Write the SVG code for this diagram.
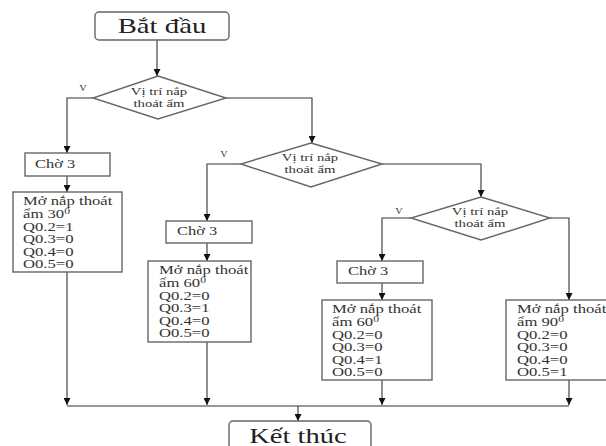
<svg xmlns="http://www.w3.org/2000/svg" width="606" height="446" viewBox="0 0 606 446" font-family="'Liberation Serif', 'Times New Roman', serif">
<defs>
<marker id="ah" viewBox="0 0 8 8" refX="8" refY="4" markerWidth="7" markerHeight="7" markerUnits="userSpaceOnUse" orient="auto">
<path d="M0,0 L8,4 L0,8 Z" fill="#111"/>
</marker>
<style>
.bx{fill:#fff;stroke:#666;stroke-width:1.4}
.ln{fill:none;stroke:#333;stroke-width:1.1}
.ar{fill:none;stroke:#333;stroke-width:1.1;marker-end:url(#ah)}
text{fill:#333;font-family:'Liberation Serif','Times New Roman',serif}
.t{font-size:11.5px}
.d{font-size:10.5px}
.v{font-size:8px}
.big{font-size:21px;fill:#222}
</style>
</defs>
<rect width="606" height="446" fill="#fff"/>

<g id="connectors">
<path class="ar" d="M157,40 V76"/>
<path class="ar" d="M93,98 H67 V153"/>
<path class="ar" d="M67,176 V192"/>
<path class="ar" d="M67,272 V405"/>
<path class="ar" d="M226,98 H312 V143"/>
<path class="ar" d="M241,164 H207 V221"/>
<path class="ar" d="M207,243 V261"/>
<path class="ar" d="M207,342 V405"/>
<path class="ar" d="M382,164 H481 V197"/>
<path class="ar" d="M411,218 H382 V261"/>
<path class="ar" d="M382,283 V300"/>
<path class="ar" d="M382,380 V405"/>
<path class="ar" d="M550,218 H569 V300"/>
<path class="ar" d="M569,380 V405"/>
<path class="ln" d="M67,406 H569"/>
<path class="ar" d="M298,406 V421"/>
</g>

<g id="start">
<rect class="bx" x="95" y="12" width="134" height="28" rx="4"/>
<text class="big" transform="translate(162,0) scale(1.37,1)" x="0" y="33" text-anchor="middle">Bắt đầu</text>
</g>

<g id="decision1">
<polygon class="bx" points="158,76 226,98 158,119 93,98"/>
<text class="d" transform="translate(159,0) scale(1.4,1)" x="0" y="95" text-anchor="middle">Vị trí nắp</text>
<text class="d" transform="translate(159,0) scale(1.4,1)" x="0" y="107" text-anchor="middle">thoát ẩm</text>
<text class="v" transform="translate(83,0) scale(1.3,1)" x="0" y="91" text-anchor="middle">V</text>
</g>

<g id="wait1">
<rect class="bx" x="25" y="153" width="85" height="23"/>
<text class="t" transform="translate(35,0) scale(1.43,1)" x="0" y="168">Chờ 3</text>
</g>

<g id="open30">
<rect class="bx" x="13" y="192" width="109" height="80"/>
<g transform="translate(23,0) scale(1.45,1)">
<text class="t" x="0" y="205.5">Mở nắp thoát</text>
<text class="t" x="0" y="218">ẩm 30<tspan font-size="8" dy="-4">0</tspan></text>
<text class="t" x="0" y="230.6">Q0.2=1</text>
<text class="t" x="0" y="243.2">Q0.3=0</text>
<text class="t" x="0" y="255.8">Q0.4=0</text>
<text class="t" x="0" y="268.4">O0.5=0</text>
</g>
</g>

<g id="decision2">
<polygon class="bx" points="311,143 382,164 311,187 241,164"/>
<text class="d" transform="translate(310,0) scale(1.4,1)" x="0" y="161" text-anchor="middle">Vị trí nắp</text>
<text class="d" transform="translate(310,0) scale(1.4,1)" x="0" y="173" text-anchor="middle">thoát ẩm</text>
<text class="v" transform="translate(224,0) scale(1.3,1)" x="0" y="157" text-anchor="middle">V</text>
</g>

<g id="wait2">
<rect class="bx" x="166" y="221" width="86" height="22"/>
<text class="t" transform="translate(177,0) scale(1.43,1)" x="0" y="235">Chờ 3</text>
</g>

<g id="open60a">
<rect class="bx" x="148" y="261" width="103" height="81"/>
<g transform="translate(159,0) scale(1.45,1)">
<text class="t" x="0" y="274.5">Mở nắp thoát</text>
<text class="t" x="0" y="287">ẩm 60<tspan font-size="8" dy="-4">0</tspan></text>
<text class="t" x="0" y="299.6">Q0.2=0</text>
<text class="t" x="0" y="312.2">Q0.3=1</text>
<text class="t" x="0" y="324.8">Q0.4=0</text>
<text class="t" x="0" y="337.4">O0.5=0</text>
</g>
</g>

<g id="decision3">
<polygon class="bx" points="481,197 550,218 481,240 411,218"/>
<text class="d" transform="translate(480,0) scale(1.4,1)" x="0" y="215" text-anchor="middle">Vị trí nắp</text>
<text class="d" transform="translate(480,0) scale(1.4,1)" x="0" y="227" text-anchor="middle">thoát ẩm</text>
<text class="v" transform="translate(399,0) scale(1.3,1)" x="0" y="214" text-anchor="middle">V</text>
</g>

<g id="wait3">
<rect class="bx" x="337" y="261" width="86" height="22"/>
<text class="t" transform="translate(348,0) scale(1.43,1)" x="0" y="275.5">Chờ 3</text>
</g>

<g id="open60b">
<rect class="bx" x="322" y="300" width="110" height="80"/>
<g transform="translate(332,0) scale(1.45,1)">
<text class="t" x="0" y="313.5">Mở nắp thoát</text>
<text class="t" x="0" y="326">ẩm 60<tspan font-size="8" dy="-4">0</tspan></text>
<text class="t" x="0" y="338.6">Q0.2=0</text>
<text class="t" x="0" y="351.2">Q0.3=0</text>
<text class="t" x="0" y="363.8">Q0.4=1</text>
<text class="t" x="0" y="376.4">O0.5=0</text>
</g>
</g>

<g id="open90">
<rect class="bx" x="506" y="300" width="110" height="80"/>
<g transform="translate(517,0) scale(1.45,1)">
<text class="t" x="0" y="313.5">Mở nắp thoát</text>
<text class="t" x="0" y="326">ẩm 90<tspan font-size="8" dy="-4">0</tspan></text>
<text class="t" x="0" y="338.6">Q0.2=0</text>
<text class="t" x="0" y="351.2">Q0.3=0</text>
<text class="t" x="0" y="363.8">Q0.4=0</text>
<text class="t" x="0" y="376.4">O0.5=1</text>
</g>
</g>

<g id="end">
<rect class="bx" x="229" y="421" width="142" height="34" rx="4"/>
<text class="big" transform="translate(298,0) scale(1.36,1)" x="0" y="443" text-anchor="middle">Kết thúc</text>
</g>
</svg>
